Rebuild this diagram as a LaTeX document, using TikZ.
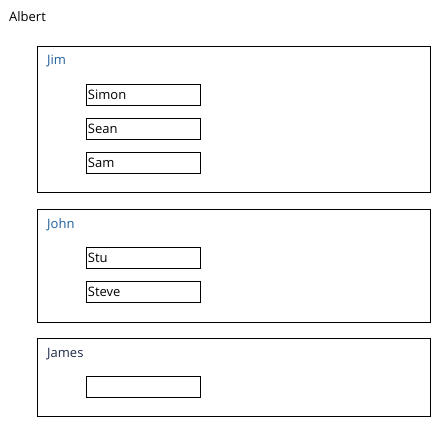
\documentclass[tikz,border=0pt]{standalone}
\usepackage{fontspec}
\setmainfont{Open Sans}
\definecolor{nameblue}{HTML}{1F5E9C}
\definecolor{namenavy}{HTML}{1E2B48}
\tikzset{
  groupbox/.style={draw, line width=0.8pt, anchor=north west, minimum width=393pt, inner sep=0pt},
  itembox/.style={draw, line width=0.8pt, anchor=north west, minimum height=21pt, minimum width=114pt,
    text width=111pt, text height=11pt, text depth=2pt, inner xsep=1.5pt, inner ysep=0pt,
    align=left, font=\fontsize{13}{15}\selectfont},
  grouplabel/.style={anchor=base west, inner sep=0pt, font=\fontsize{13}{15}\selectfont}
}
\begin{document}
\begin{tikzpicture}[x=1pt, y=1pt]
  \useasboundingbox (0, 0) rectangle (444, -433);
  \node [grouplabel] (albert) at (9, -22) {Albert};

  % Jim
  \node [groupbox, minimum height=146pt] (jim) at (37, -46) {};
  \node [grouplabel, text=nameblue] (jimlabel) at (47, -65) {Jim};
  \node [itembox] (simon) at (86, -84) {Simon};
  \node [itembox] (sean) at (86, -118) {Sean};
  \node [itembox] (sam) at (86, -152) {Sam};

  % John
  \node [groupbox, minimum height=113pt] (john) at (37, -209) {};
  \node [grouplabel, text=nameblue] (johnlabel) at (47, -228) {John};
  \node [itembox] (stu) at (86, -247) {Stu};
  \node [itembox] (steve) at (86, -281) {Steve};

  % James
  \node [groupbox, minimum height=78pt] (james) at (37, -338) {};
  \node [grouplabel, text=namenavy] (jameslabel) at (47, -357) {James};
  \node [itembox] (empty) at (86, -376) {};
\end{tikzpicture}
\end{document}
